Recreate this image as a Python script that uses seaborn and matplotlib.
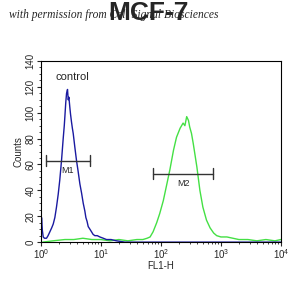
import numpy as np
import matplotlib
matplotlib.use('Agg')
import matplotlib.pyplot as plt
import seaborn as sns
from matplotlib.ticker import LogLocator, MultipleLocator, NullFormatter

# control histogram (log10 FL1-H position, counts)
blue_log = [0.0, 0.011, 0.025, 0.039, 0.06, 0.094, 0.12, 0.15, 0.18, 0.206, 0.233,
            0.26, 0.289, 0.315, 0.344, 0.372, 0.39, 0.4, 0.415, 0.428, 0.444, 0.456,
            0.467, 0.483, 0.494, 0.51, 0.525, 0.539, 0.567, 0.594, 0.62, 0.65, 0.678,
            0.706, 0.733, 0.75, 0.77, 0.789, 0.817, 0.844, 0.87, 0.9, 0.94, 0.983,
            1.04, 1.094, 1.17, 1.26, 1.4, 1.6, 2.0, 2.5, 3.0, 3.5, 4.0]
blue_counts = [2, 19, 9, 4, 3, 3, 5, 8, 11, 14, 19, 27, 37, 48, 63, 80, 90, 97, 108,
               115, 118, 110, 112, 104, 99, 93, 88, 84, 73, 63, 55, 45, 38, 30, 24, 19,
               16, 12, 10, 8, 6, 5, 5, 4, 3, 2, 2, 1, 0, 0, 0, 0, 0, 0, 0]

# sample histogram
green_log = [0.03, 0.2, 0.4, 0.55, 0.7, 0.85, 1.0, 1.15, 1.3, 1.45, 1.6, 1.7, 1.77,
             1.82, 1.87, 1.93, 1.98, 2.04, 2.1, 2.15, 2.21, 2.26, 2.32, 2.37, 2.4,
             2.43, 2.46, 2.48, 2.51, 2.54, 2.57, 2.6, 2.65, 2.7, 2.76, 2.82, 2.88,
             2.93, 3.0, 3.1, 3.2, 3.3, 3.45, 3.6, 3.75, 3.9, 4.0]
green_counts = [0, 1, 2, 2, 3, 2, 2, 1, 2, 1, 2, 2, 3, 4, 8, 15, 22, 32, 45, 56, 71,
                81, 88, 92, 90, 97, 94, 89, 84, 76, 67, 58, 40, 27, 17, 11, 7, 5, 4,
                4, 3, 2, 2, 1, 2, 1, 2]

# gate markers: (label, start, end, count level)
markers = [('M1', 1.2, 6.6, 63), ('M2', 74, 740, 53)]

sns.set_style('white')
plt.rcParams['font.family'] = ['Liberation Sans', 'DejaVu Sans']

fig = plt.figure(figsize=(3.05, 2.96), dpi=100)
ax = fig.add_axes([0.134, 0.182, 0.787, 0.612])

sns.lineplot(x=10 ** np.array(green_log), y=green_counts, ax=ax,
             color='#44e044', linewidth=1.0)
sns.lineplot(x=10 ** np.array(blue_log), y=blue_counts, ax=ax,
             color='#1a1aa0', linewidth=1.0)

ax.set_xscale('log')
ax.set_xlim(1, 1e4)
ax.set_ylim(0, 140)

for name, x0, x1, yv in markers:
    ax.plot([x0, x1], [yv, yv], color='#333333', lw=1.0)
    ax.plot([x0, x0], [yv - 4, yv + 4], color='#333333', lw=1.0)
    ax.plot([x1, x1], [yv - 4, yv + 4], color='#333333', lw=1.0)
    ax.text(np.sqrt(x0 * x1), yv - 4, name, ha='center', va='top', fontsize=6.5)

ax.text(3.4, 128, 'control', ha='center', va='center', fontsize=8)

ax.xaxis.set_major_locator(LogLocator(base=10, numticks=10))
ax.xaxis.set_minor_locator(LogLocator(base=10, subs=np.arange(2, 10), numticks=10))
ax.xaxis.set_minor_formatter(NullFormatter())
ax.yaxis.set_major_locator(MultipleLocator(20))
ax.yaxis.set_minor_locator(MultipleLocator(5))
ax.tick_params(axis='both', which='major', direction='out', length=3, width=0.8,
               labelsize=7, bottom=True, left=True, pad=1)
ax.tick_params(axis='both', which='minor', direction='out', length=1.5, width=0.6,
               bottom=True, left=True)
for lab in ax.get_yticklabels():
    lab.set_rotation(90)
    lab.set_va('center')

for s in ax.spines.values():
    s.set_color('black')
    s.set_linewidth(0.8)

ax.set_xlabel('FL1-H', fontsize=7, labelpad=0)
ax.set_ylabel('Counts', fontsize=7, labelpad=1)

fig.text(0.03, 0.95, 'with permission from Cell Signal Biosciences',
         family='Liberation Serif', style='italic', fontsize=8.3, va='center')
fig.text(0.488, 0.955, 'MCF-7', ha='center', va='center', fontsize=19,
         fontweight='bold')

fig.savefig('out.png', dpi=100)
